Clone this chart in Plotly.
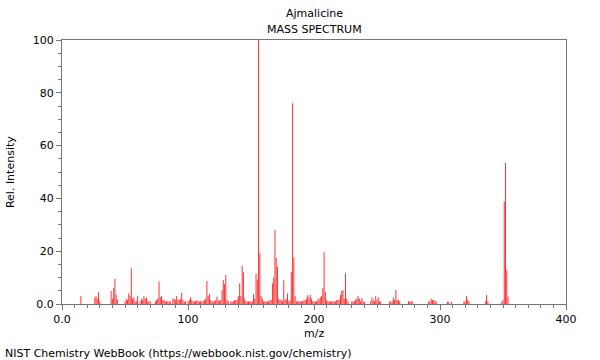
import plotly.graph_objects as go

mz = [15, 26, 27, 28, 29, 30, 39, 40, 41, 42, 43, 44, 50, 51, 52, 53, 54, 55, 56, 57, 58, 59, 60,
      62, 63, 64, 65, 66, 67, 68, 69, 70, 74, 75, 76, 77, 78, 79, 80, 81, 82, 83, 84, 85, 86,
      88, 89, 90, 91, 92, 93, 94, 95, 96, 97, 98, 100, 101, 102, 103, 104, 105, 106, 107, 108,
      109, 110, 111, 112, 113, 114, 115, 116, 117, 118, 119, 120, 121, 122, 123, 124, 125, 126,
      127, 128, 129, 130, 131, 132, 134, 135, 136, 137, 138, 139, 140, 141, 142, 143, 144, 145,
      146, 147, 148, 149, 150, 151, 152, 153, 154, 155, 156, 157, 158, 159, 160, 161, 162, 163,
      164, 165, 166, 167, 168, 169, 170, 171, 172, 173, 174, 175, 176, 177, 178, 179, 180, 181,
      182, 183, 184, 185, 186, 187, 188, 189, 190, 191, 192, 193, 194, 195, 196, 197, 198, 199,
      200, 201, 202, 203, 204, 205, 206, 207, 208, 209, 210, 211, 212, 213, 214, 215, 216, 217,
      218, 219, 220, 221, 222, 223, 224, 225, 226, 227, 230, 231, 232, 233, 234, 235, 236, 237,
      238, 239, 240, 245, 246, 247, 248, 249, 250, 251, 252, 253, 260, 261, 262, 263, 264, 265,
      266, 267, 268, 275, 276, 277, 278, 291, 292, 293, 294, 295, 296, 297, 306, 307, 309, 319,
      320, 321, 322, 323, 336, 337, 338, 349, 350, 351, 352, 353, 354]
intensity = [3, 2.5, 3, 2, 4.5, 1, 5, 2, 6, 9.5, 3.5, 1.5, 1, 2, 1.5, 4, 3, 13.5, 2, 2.5, 1, 1, 3,
             1, 2, 1.5, 3, 2, 2.5, 1, 1, 1, 1, 1.5, 2, 8.5, 2.5, 3, 1.5, 1.5, 1, 1, 1, 1, 1,
             2, 2, 1.5, 3, 1.5, 1.5, 2, 4.3, 1.5, 1, 1, 1, 1.5, 2.5, 1.5, 1, 1, 1, 1.5, 1,
             1, 1, 1, 1, 1.5, 2, 8.7, 3, 3.8, 1.5, 1, 1, 1, 1.5, 2.8, 1.5, 1, 1.5,
             5.3, 9, 7.5, 11, 1.5, 1, 1, 1, 1, 1.5, 1.5, 1.5, 3, 7.8, 3, 14.5, 12, 2,
             1, 1, 1, 1, 1, 1, 3.7, 2, 11.5, 9.3, 100, 19.2, 3, 2, 1, 1, 1, 1,
             1, 1.5, 1.5, 7.8, 10, 28, 17.5, 14, 2, 1.5, 1.5, 1, 9, 1.5, 2, 4, 1, 1.5,
             12.2, 76, 17.5, 3, 1, 1, 1, 1, 1, 1, 1.5, 1.5, 2, 3.3, 2.5, 3.5, 2, 1,
             1, 1, 1, 1.5, 2, 2.5, 3, 6, 19.6, 4.5, 1.5, 1, 1, 1, 1, 1, 1, 1,
             1.5, 1.5, 1.5, 3.5, 5, 5.2, 2, 11.6, 2, 1, 1, 1, 1, 1.5, 2, 3, 2, 1,
             2.2, 1, 0.8, 1, 2.5, 1.5, 1, 3, 1.5, 2.5, 1, 0.8, 1, 0.8, 1, 2.5, 1.5, 5.3,
             1.5, 1.5, 1, 1, 1, 1, 1, 1, 1, 2, 1.5, 1.5, 1, 1, 0.8, 0.8, 0.8, 1,
             1, 3, 1.5, 1, 1, 3.4, 1, 0.8, 1.5, 38.8, 53.5, 12.9, 2.8]

x_ticks = [0, 100, 200, 300, 400]
x_labels = ["0.0", "100", "200", "300", "400"]
y_ticks = [0, 20, 40, 60, 80, 100]
y_labels = ["0.0", "20", "40", "60", "80", "100"]

FONT = "DejaVu Sans"

# stick spectrum: each peak is a vertical segment from 0 to its intensity
xs, ys = [], []
for m, v in zip(mz, intensity):
    xs += [m, m, None]
    ys += [0, v, None]

fig = go.Figure()
fig.add_trace(go.Scatter(x=xs, y=ys, mode="lines",
                         line=dict(color="rgb(255,50,50)", width=1),
                         hoverinfo="skip"))

axis_common = dict(showgrid=False, zeroline=False, showline=True, linecolor="#777",
                   linewidth=1, mirror=True, ticks="outside", ticklen=5, tickcolor="#777",
                   tickfont=dict(family=FONT, size=11, color="black"))

fig.update_xaxes(range=[0, 400], tickmode="array", tickvals=x_ticks, ticktext=x_labels,
                 minor=dict(tick0=0, dtick=10, ticks="outside", ticklen=3, tickcolor="#777"),
                 **axis_common)
fig.update_yaxes(range=[0, 100], tickmode="array", tickvals=y_ticks, ticktext=y_labels,
                 minor=dict(tick0=0, dtick=5, ticks="outside", ticklen=3, tickcolor="#777"),
                 **axis_common)

fig.update_layout(
    width=600, height=360,
    margin=dict(l=62, r=34, t=40, b=56),
    paper_bgcolor="white", plot_bgcolor="white",
    showlegend=False,
    font=dict(family=FONT, size=11, color="black"),
    annotations=[
        dict(text="Ajmalicine", x=0.5, y=1.102, xref="paper", yref="paper",
             showarrow=False, xanchor="center", yanchor="middle", font=dict(size=11)),
        dict(text="MASS SPECTRUM", x=0.5, y=1.038, xref="paper", yref="paper",
             showarrow=False, xanchor="center", yanchor="middle", font=dict(size=11)),
        dict(text="m/z", x=0.5, y=-0.11, xref="paper", yref="paper",
             showarrow=False, xanchor="center", yanchor="middle", font=dict(size=11)),
        dict(text="Rel. Intensity", x=-0.103, y=0.5, xref="paper", yref="paper",
             showarrow=False, xanchor="center", yanchor="middle", textangle=-90,
             font=dict(size=11)),
        dict(text="NIST Chemistry WebBook (https://webbook.nist.gov/chemistry)",
             x=-0.117, y=-0.186, xref="paper", yref="paper", showarrow=False,
             xanchor="left", yanchor="middle", font=dict(size=11)),
    ],
)

fig.write_html("out.html",
               config={"displayModeBar": False},
               post_script="document.body.style.margin='0';document.body.style.overflow='hidden';")
